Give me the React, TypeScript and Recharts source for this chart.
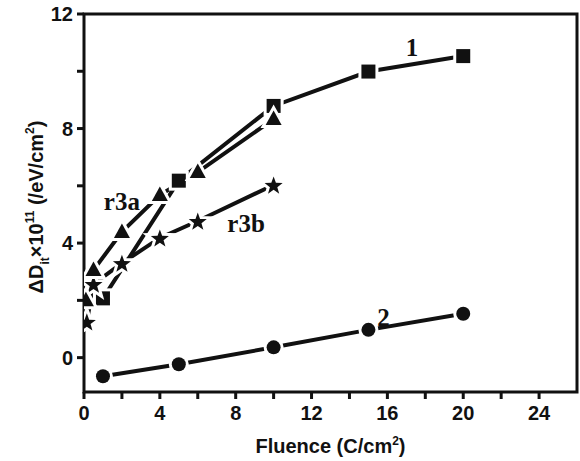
import React from 'react';
import { LineChart, Line, XAxis, YAxis, ReferenceArea, ReferenceDot, Label } from 'recharts';

const fluence1 = [1, 5, 10, 15, 20];
const dit1 = [2.07, 6.18, 8.79, 9.99, 10.53];
const fluence2 = [1, 5, 10, 15, 20];
const dit2 = [-0.65, -0.23, 0.36, 0.97, 1.53];
const fluence3a = [0.1, 0.5, 2, 4, 6, 10];
const dit3a = [2.0, 3.06, 4.39, 5.68, 6.48, 8.33];
const fluence3b = [0.15, 0.5, 2, 4, 6, 10];
const dit3b = [1.25, 2.57, 3.3, 4.18, 4.77, 6.03];

const xTicks = [0, 2, 4, 6, 8, 10, 12, 14, 16, 18, 20, 22, 24];
const yTicks = [0, 2, 4, 6, 8, 10, 12];

const annotations = [
  { text: '1', x: 17.3, y: 10.81 },
  { text: 'r3a', x: 2.0, y: 5.44 },
  { text: 'r3b', x: 8.55, y: 4.67 },
  { text: '2', x: 15.8, y: 1.39 },
];

const zip = (xs: number[], ys: number[]) => xs.map((x, i) => ({ x, y: ys[i] }));
const s1 = zip(fluence1, dit1);
const s2 = zip(fluence2, dit2);
const s3a = zip(fluence3a, dit3a);
const s3b = zip(fluence3b, dit3b);

const markerStyle = { fill: '#111', stroke: '#fff', strokeWidth: 6, paintOrder: 'stroke' as const };

const SquareDot = (p: any) => (
  <rect key={p.key} x={p.cx - 7} y={p.cy - 7} width={14} height={14} {...markerStyle} />
);
const CircleDot = (p: any) => <circle key={p.key} cx={p.cx} cy={p.cy} r={7} {...markerStyle} />;
const TriDot = (p: any) => (
  <path key={p.key} d={`M${p.cx},${p.cy - 8.5} L${p.cx + 8},${p.cy + 6} L${p.cx - 8},${p.cy + 6} Z`} {...markerStyle} />
);
const StarDot = (p: any) => {
  const R = 9.5, r = 3.9;
  let d = '';
  for (let i = 0; i < 10; i++) {
    const a = -Math.PI / 2 + (i * Math.PI) / 5;
    const rr = i % 2 === 0 ? R : r;
    d += (i === 0 ? 'M' : 'L') + (p.cx + rr * Math.cos(a)).toFixed(2) + ',' + (p.cy + rr * Math.sin(a) + 1).toFixed(2);
  }
  return <path key={p.key} d={d + 'Z'} {...markerStyle} />;
};

const sansFamily = '"Liberation Sans", Arial, sans-serif';
const tickFont = { fontSize: 20, fontWeight: 'bold' as const, fill: '#111', fontFamily: sansFamily };
const fmt = (v: number) => (v % 4 === 0 ? String(v) : '');

export default function App() {
  return (
    <div style={{ position: 'absolute', left: 0, top: 0, background: '#fff' }}>
      <LineChart width={580} height={461} margin={{ top: 14, right: 3, left: 0, bottom: 0 }}>
        <XAxis
          type="number"
          dataKey="x"
          domain={[0, 26]}
          ticks={xTicks}
          tickFormatter={fmt}
          allowDataOverflow
          height={69}
          tickSize={7}
          tickMargin={7}
          axisLine={false}
          tickLine={{ stroke: '#111', strokeWidth: 3 }}
          tick={tickFont}
        >
          <Label
            content={(props: any) => {
              const vb = props.viewBox;
              return (
                <text
                  x={vb.x + vb.width / 2}
                  y={vb.y + 61}
                  textAnchor="middle"
                  style={{ fontSize: 20, fontWeight: 'bold', fontFamily: sansFamily }}
                  fill="#111"
                >
                  Fluence (C/cm<tspan dy={-8} fontSize={12}>2</tspan><tspan dy={8}>)</tspan>
                </text>
              );
            }}
          />
        </XAxis>
        <YAxis
          type="number"
          domain={[-1.2, 12]}
          ticks={yTicks}
          tickFormatter={fmt}
          allowDataOverflow
          width={84}
          tickSize={7}
          tickMargin={4}
          axisLine={false}
          tickLine={{ stroke: '#111', strokeWidth: 3 }}
          tick={tickFont}
        >
          <Label
            content={(props: any) => {
              const vb = props.viewBox;
              const cx = 43;
              const cy = vb.y + vb.height / 2 + 4;
              return (
                <text
                  x={cx}
                  y={cy}
                  transform={`rotate(-90 ${cx} ${cy})`}
                  textAnchor="middle"
                  style={{ fontSize: 20, fontWeight: 'bold', fontFamily: sansFamily }}
                  fill="#111"
                >
                  ΔD<tspan dy={6} fontSize={12}>it</tspan>
                  <tspan dy={-6}>×10</tspan>
                  <tspan dy={-9} fontSize={12}>11</tspan>
                  <tspan dy={9}> (/eV/cm</tspan>
                  <tspan dy={-9} fontSize={12}>2</tspan>
                  <tspan dy={9}>)</tspan>
                </text>
              );
            }}
          />
        </YAxis>
        <ReferenceArea x1={0} x2={26} y1={-1.2} y2={12} fill="none" stroke="#111" strokeWidth={3} ifOverflow="visible" />
        <Line data={s2} dataKey="y" stroke="#111" strokeWidth={4} dot={CircleDot} isAnimationActive={false} />
        <Line data={s1} dataKey="y" stroke="#111" strokeWidth={4} dot={SquareDot} isAnimationActive={false} />
        <Line data={s3b} dataKey="y" stroke="#111" strokeWidth={4} dot={StarDot} isAnimationActive={false} />
        <Line data={s3a} dataKey="y" stroke="#111" strokeWidth={4} dot={TriDot} isAnimationActive={false} />
        {annotations.map((a) => (
          <ReferenceDot
            key={a.text}
            x={a.x}
            y={a.y}
            r={0}
            stroke="none"
            fill="none"
            label={(props: any) => (
              <text
                x={props.viewBox.x}
                y={props.viewBox.y + 8}
                textAnchor="middle"
                style={{ fontSize: 25, fontWeight: 'bold', fontFamily: '"Liberation Serif", "Times New Roman", serif' }}
                fill="#111"
              >
                {a.text}
              </text>
            )}
          />
        ))}
      </LineChart>
    </div>
  );
}
